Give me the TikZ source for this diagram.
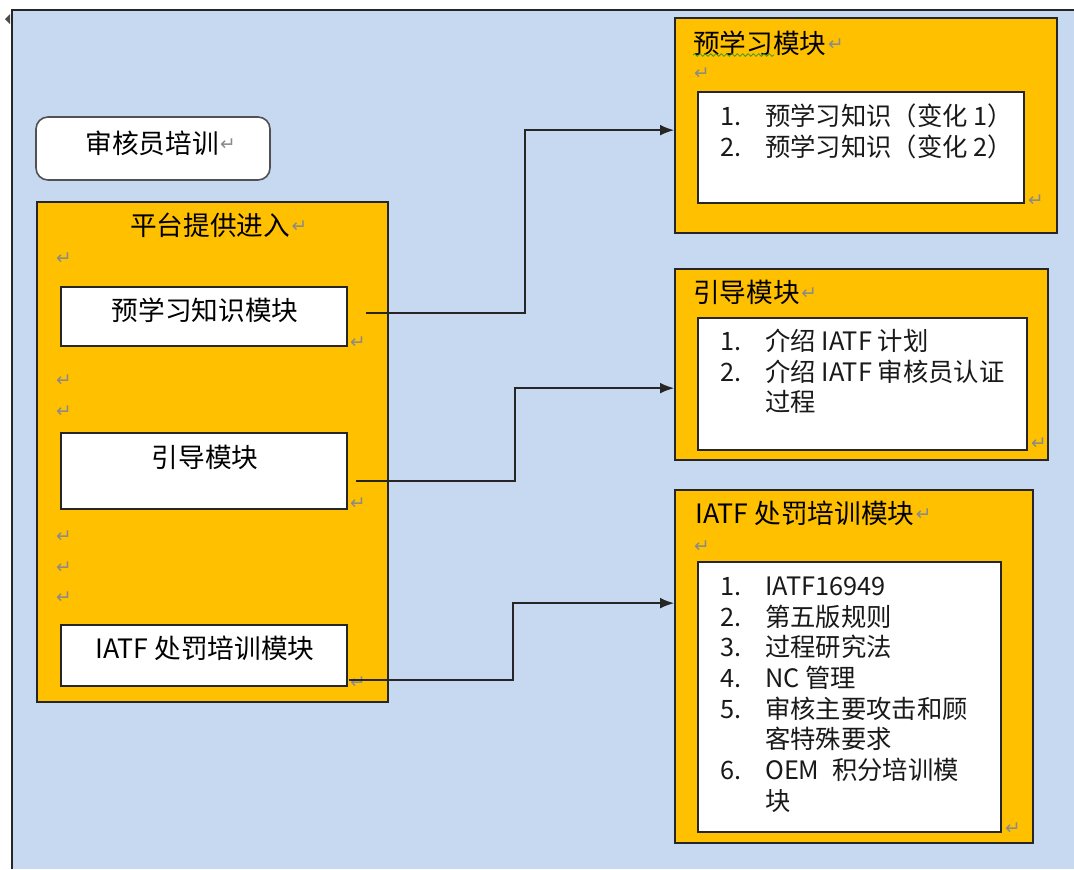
\documentclass[tikz,border=0pt]{standalone}
\usepackage{fontspec}
\setmainfont{Noto Sans CJK SC}
\newfontfamily\symfont{DejaVu Sans}
\usetikzlibrary{arrows.meta,calc,fit,decorations.pathmorphing}
\definecolor{bgblue}{HTML}{C6D9F1}
\definecolor{orng}{HTML}{FFC000}
\definecolor{edge}{HTML}{262626}
\definecolor{pmark}{HTML}{8A8A8A}
\definecolor{spell}{HTML}{3C9A28}
\tikzset{
  outerbox/.style={draw=edge, line width=1.3pt, fill=orng, inner sep=0pt},
  whitebox/.style={draw=edge, line width=1.2pt, fill=white, inner sep=0pt},
  roundbox/.style={draw=edge!80, line width=1.2pt, fill=white, rounded corners=9pt, inner sep=0pt},
  ttl/.style={inner sep=0pt, text=black, font=\fontsize{20}{24}\selectfont},
  listtxt/.style={inner sep=0pt, text=black!90, font=\fontsize{19}{23}\selectfont, align=left},
  pm/.style={inner sep=0pt, text=pmark, font=\symfont\fontsize{14}{14}\selectfont},
  pmafter/.style={pm, anchor=west},
  conn/.style={draw=edge, line width=1.1pt, -{Latex[length=10.5pt,width=8pt]}},
}
\begin{document}
\begin{tikzpicture}[x=0.75pt,y=-0.75pt]
\useasboundingbox (0,0) rectangle (1074,869);
% page background and frame
\fill[white] (0,0) rectangle (1074,869);
\fill[bgblue] (12,10) rectangle (1074,869);
\draw[edge, line width=1.5pt] (12,869) -- (12,10) -- (1074,10);
\fill[black!70] (10,14) -- (5,19) -- (10,24) -- cycle;

% left side
\node[roundbox, fit={(36,117) (270,180)}] (audit) {};
\node[ttl] (taudit) at (152,143) {审核员培训};
\node[pmafter] (pa) at ($(taudit.east)+(1,2)$) {↵};

\node[outerbox, fit={(37,202) (388,702)}] (plat) {};
\node[ttl] (tplat) at (210,225) {平台提供进入};
\node[pmafter] (pp0) at ($(tplat.east)+(1,2)$) {↵};
\node[pm] (pp1) at (64,259) {↵};
\node[pm] (pp2) at (64,381) {↵};
\node[pm] (pp3) at (64,412) {↵};
\node[pm] (pp4) at (64,537) {↵};
\node[pm] (pp5) at (64,568) {↵};
\node[pm] (pp6) at (64,598) {↵};

\node[whitebox, fit={(61,287) (347,346)}] (m1) {};
\node[ttl] (tm1) at (205,310) {预学习知识模块};
\node[pm] (pm1) at (358,343) {↵};

\node[whitebox, fit={(61,433) (347,509)}] (m2) {};
\node[ttl] (tm2) at (205,457) {引导模块};
\node[pm] (pm2) at (358,504) {↵};

\node[whitebox, fit={(61,625) (347,686)}] (m3) {};
\node[ttl] (tm3) at (205,648) {IATF 处罚培训模块};
\node[pm] (pm3) at (358,683) {↵};

% right box 1
\node[outerbox, fit={(675,18) (1057,233)}] (r1) {};
\node[ttl, anchor=west] (t1) at (693,43) {预学习模块};
\draw[spell, line width=0.6pt, decorate, decoration={snake, amplitude=1pt, segment length=4pt}]
  ($(t1.west)+(0,12)$) -- ++(81,0);
\node[pmafter] (q1a) at ($(t1.east)+(1,2)$) {↵};
\node[pm] (q1b) at (702,74) {↵};
\node[whitebox, fit={(698,92) (1024,203)}] (b1) {};
\node[listtxt, anchor=base west] (l1) at (720,125.5) {\begin{tabular}[t]{@{}p{33.75pt}@{}l@{}}
1. & 预学习知识（变化 1） \\
2. & 预学习知识（变化 2）
\end{tabular}};
\node[pm] (q1c) at (1036,201) {↵};

% right box 2
\node[outerbox, fit={(675,269) (1048,460)}] (r2) {};
\node[ttl, anchor=west] (t2) at (693,292) {引导模块};
\node[pmafter] (q2a) at ($(t2.east)+(1,2)$) {↵};
\node[whitebox, fit={(698,318) (1027,450)}] (b2) {};
\node[listtxt, anchor=base west] (l2) at (720,350.5) {\begin{tabular}[t]{@{}p{33.75pt}@{}l@{}}
1. & 介绍 IATF 计划 \\
2. & 介绍 IATF 审核员认证 \\
   & 过程
\end{tabular}};
\node[pm] (q2b) at (1039,444) {↵};

% right box 3
\node[outerbox, fit={(675,490) (1033,843)}] (r3) {};
\node[ttl, anchor=west] (t3) at (695,513) {IATF 处罚培训模块};
\node[pmafter] (q3a) at ($(t3.east)+(1,2)$) {↵};
\node[pm] (q3b) at (702,547) {↵};
\node[whitebox, fit={(698,562) (1001,832)}] (b3) {};
\node[listtxt, anchor=base west] (l3) at (720,595.5) {\begin{tabular}[t]{@{}p{33.75pt}@{}l@{}}
1. & IATF16949 \\
2. & 第五版规则 \\
3. & 过程研究法 \\
4. & NC 管理 \\
5. & 审核主要攻击和顾 \\
   & 客特殊要求 \\
6. & OEM\enspace 积分培训模 \\
   & 块
\end{tabular}};
\node[pm] (q3c) at (1013,829) {↵};

% connectors
\draw[conn] ($(m1.east)+(18,-3.5)$) -- ++(159,0) |- ($(r1.north west)+(0,113)$);
\draw[conn] ($(m2.east)+(8,10)$) -- ++(159,0) |- ($(r2.north west)+(0,120)$);
\draw[conn] ($(m3.east)+(1,24.5)$) -- ++(164,0) |- ($(r3.north west)+(0,114)$);
\end{tikzpicture}
\end{document}
